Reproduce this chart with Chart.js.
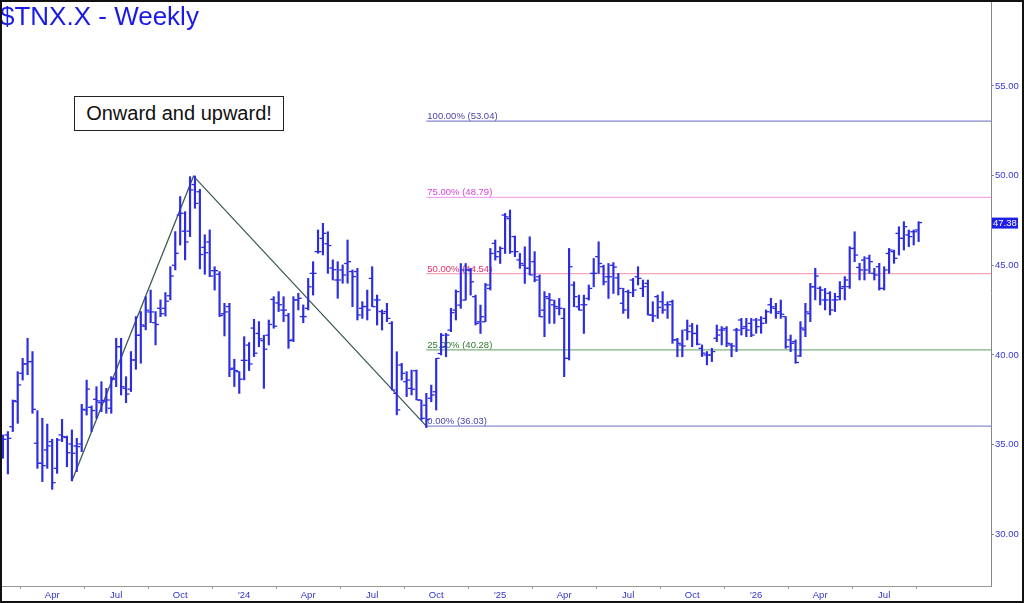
<!DOCTYPE html>
<html>
<head>
<meta charset="utf-8">
<script src="https://cdn.jsdelivr.net/npm/chart.js@4.4.1/dist/chart.umd.min.js"></script>
<style>
html,body{margin:0;padding:0;background:#fff;}
#wrap{position:relative;width:1024px;height:603px;overflow:hidden;}
#c{position:absolute;left:0;top:0;}
#title{position:absolute;left:0;top:3px;font:26px/26px "Liberation Sans",Arial,sans-serif;color:#1a1ae6;white-space:nowrap;}
#note{position:absolute;left:74px;top:96px;width:210px;height:35px;box-sizing:border-box;border:1.5px solid #222;background:#fff;
  font:20px "Liberation Sans",Arial,sans-serif;color:#111;display:flex;align-items:center;justify-content:center;}
#frame{position:absolute;left:0;top:0;width:1024px;height:603px;border:2px solid #111;box-sizing:border-box;pointer-events:none;}
</style>
</head>
<body>
<div id="wrap">
  <canvas id="c" width="1024" height="603"></canvas>
  <div id="title">$TNX.X - Weekly</div>
  <div id="note">Onward and upward!</div>
  <div id="frame"></div>
</div>
<script>
// weekly bars, one per week, index 0 = first bar on the left
const opens=[35.1,35.54,36.0,37.4,38.98,39.5,39.63,35.08,33.96,34.7,
35.17,33.68,35.54,35.4,35.04,34.93,35.04,36.93,37.08,37.53,
37.34,37.4,37.03,38.7,40.46,38.14,38.09,39.72,41.1,41.6,
42.4,41.8,42.6,42.6,43.3,45.0,47.8,46.9,46.9,49.5,
49.1,46.0,46.3,44.7,44.5,42.3,42.7,39.26,39.07,39.7,
40.55,41.5,41.2,40.8,41.1,43.1,42.9,42.5,42.2,40.84,
43.07,42.14,42.6,44.55,45.76,46.5,46.2,44.85,44.18,44.74,
45.1,44.65,44.65,42.6,42.7,44.27,43.07,42.42,42.42,41.76,
37.86,39.44,38.51,38.14,39.12,37.49,37.2,37.58,37.95,40.08,
40.46,41.39,42.5,42.78,43.06,44.74,43.25,41.85,41.85,43.71,
46.22,45.76,47.8,47.6,46.6,45.3,45.0,44.83,45.2,44.36,
42.5,43.15,42.8,42.6,42.04,39.81,43.9,42.69,42.8,43.15,
44.55,45.48,44.92,44.36,45.0,44.3,42.88,43.53,44.18,44.36,
43.71,43.99,42.23,43.25,42.97,42.8,42.97,40.84,40.56,41.39,
41.62,41.2,40.37,40.0,40.0,40.93,41.39,41.48,40.56,41.39,
41.95,41.58,41.76,41.95,41.95,42.04,42.8,42.6,42.41,42.14,
40.84,40.74,39.95,41.4,42.3,43.8,43.72,43.07,43.44,43.07,
43.25,43.81,43.81,45.94,44.88,45.29,45.39,44.55,44.92,43.71,
45.66,45.76,46.78,46.5,46.69,46.87,46.97];
const highs=[35.54,35.73,37.49,39.07,39.81,40.93,40.19,36.9,36.47,36.15,
35.3,35.35,36.41,35.48,35.82,35.35,37.25,38.6,37.16,38.23,
38.51,38.14,38.79,40.93,40.93,38.79,40.19,42.14,42.42,43.25,
43.62,42.42,43.07,43.48,44.92,46.88,48.83,47.99,49.94,49.98,
49.23,46.7,46.97,44.92,44.65,42.88,42.88,39.76,39.07,41.02,
40.69,41.99,41.86,41.1,41.95,43.25,43.53,43.25,42.32,43.25,
43.44,42.79,44.27,45.2,46.97,47.34,46.87,45.3,45.2,45.02,
46.41,44.74,44.83,42.97,43.62,44.92,43.34,42.51,42.88,41.86,
40.18,39.53,39.07,39.16,39.16,37.49,37.86,38.32,39.81,41.2,
41.2,42.6,43.62,45.1,45.1,44.83,43.34,42.78,43.99,45.94,
46.41,46.03,47.89,48.08,46.63,45.66,46.03,46.59,45.76,44.46,
43.53,43.43,43.06,43.15,42.6,45.94,44.08,43.34,43.34,43.9,
45.38,46.31,45.01,45.1,45.15,44.55,43.72,43.62,44.27,44.92,
44.18,44.18,42.97,43.34,43.53,42.97,43.06,40.93,41.39,41.95,
41.76,41.67,40.56,40.19,40.37,41.67,41.58,41.58,40.65,41.49,
42.04,42.04,42.04,42.04,42.14,42.51,43.16,42.88,43.06,42.14,
41.11,40.84,41.86,42.88,43.99,44.83,43.81,43.71,43.53,43.44,
44.09,44.37,46.04,46.87,45.11,45.48,45.57,44.83,45.11,44.92,
45.94,45.85,47.15,47.43,46.97,46.97,47.43];
const lows=[34.24,33.37,35.73,36.19,38.6,38.9,36.75,33.68,32.94,33.68,
32.51,33.4,35.17,33.77,32.98,33.5,34.61,36.65,35.73,36.47,
36.84,36.75,36.75,38.23,37.77,37.34,37.96,39.2,39.54,41.4,
41.8,40.56,42.14,42.17,43.07,44.74,46.13,45.3,46.6,48.18,
44.8,44.5,44.37,43.62,42.14,41.06,38.79,38.24,37.86,38.61,
39.13,39.91,40.46,38.14,40.56,41.49,42.42,41.86,40.37,40.74,
42.51,41.8,42.51,43.34,45.67,45.58,44.55,44.18,43.16,44.0,
44.0,42.69,41.95,42.04,41.95,42.69,41.67,41.39,41.86,38.05,
36.66,38.6,37.68,37.77,37.49,36.37,35.95,37.39,36.93,40.0,
39.9,41.3,41.95,42.6,43.06,43.34,41.67,41.2,41.85,43.62,
45.29,45.1,45.66,45.66,45.48,44.83,43.99,44.46,44.08,42.13,
41.02,41.76,41.76,42.23,38.79,39.72,42.69,42.5,41.2,43.06,
43.8,44.55,43.9,43.15,43.43,43.34,42.32,42.04,43.25,43.9,
43.25,42.23,41.86,42.04,42.32,42.04,40.65,39.9,39.9,40.84,
40.46,40.56,39.91,39.45,39.63,40.74,40.56,40.46,39.9,40.19,
41.11,41.02,41.02,41.21,41.21,41.76,42.32,42.04,42.04,40.37,
40.19,39.54,39.91,41.02,41.86,43.07,42.79,42.51,42.23,42.42,
43.07,43.07,43.71,45.2,44.18,44.18,44.55,44.18,43.62,43.62,
44.55,45.11,45.57,45.85,46.04,46.13,46.32];
const closes=[35.3,35.35,37.45,38.33,39.5,39.63,36.97,33.96,33.83,34.93,
32.88,35.26,35.45,34.55,34.52,34.89,36.97,38.1,36.9,37.44,
37.46,37.49,38.64,40.46,38.23,37.82,39.72,41.1,41.67,42.5,
42.4,41.7,42.3,43.0,44.4,45.67,47.9,46.3,49.2,48.45,
45.6,45.7,44.4,44.7,42.2,42.4,39.2,39.13,38.65,39.7,
39.5,40.1,40.9,40.32,41.7,41.6,42.8,42.5,40.8,43.07,
43.16,42.14,43.8,44.55,45.76,46.78,46.1,44.75,44.18,44.46,
45.2,44.37,42.23,42.7,42.51,42.69,43.07,42.32,42.04,38.05,
36.94,38.98,38.6,38.09,37.49,36.47,36.4,37.77,39.81,41.1,
41.11,42.36,43.53,44.74,44.74,44.08,41.76,42.13,43.9,45.66,
45.48,45.94,47.7,45.76,45.76,45.1,44.83,44.46,44.18,42.13,
43.25,43.06,42.7,42.6,39.81,44.92,43.25,42.5,42.8,43.71,
44.55,45.1,44.08,44.36,44.9,43.71,42.51,43.48,43.62,44.27,
43.81,42.23,42.18,42.65,42.51,42.8,40.84,40.65,40.5,41.3,
41.2,40.6,40.1,40.0,40.19,41.11,41.39,40.65,40.5,41.39,
41.48,41.39,41.11,41.58,41.76,42.41,42.69,42.32,42.27,40.46,
40.65,39.58,41.5,42.4,43.8,44.4,43.62,43.07,42.51,43.07,
43.71,44.18,45.94,45.57,44.74,44.74,45.2,44.46,43.71,44.74,
45.85,45.39,46.5,47.15,46.6,46.87,47.38];

// x axis: bar index where each month label sits
const tickWeeks=[10,23,36,49,62,75,88,101,114,127,140,153,166,179];
const tickLabels=['Apr','Jul','Oct',"'24",'Apr','Jul','Oct',"'25",'Apr','Jul','Oct',"'26",'Apr','Jul'];
const yTicks=[30,35,40,45,50,55];

// swing line pivots (bar index, price)
const trendX=[14,38.7,86];
const trendY=[32.98,49.97,36.03];

// retracement levels
const fibStart=86;
const fibNames=['100.00%','75.00%','50.00%','25.00%','0.00%'];
const fibValues=[53.04,48.79,44.54,40.28,36.03];
const fibLine=['#8484cc','#f2a6f0','#f4a6b8','#7fb27f','#8a8ad0'];
const fibText=['#4646a6','#d840d8','#e23062','#2e7a2e','#4646a6'];

const xMin=-0.6, xMax=200.7, yMin=27.12, yMax=59.79;
const FONT='"Liberation Sans", Arial, sans-serif';
const barBlue='#2c2ce0';

const idx=opens.map((_,i)=>i);

const fibSets=fibValues.map((v,k)=>({
  type:'line', data:[{x:fibStart,y:v},{x:xMax,y:v}],
  borderColor:fibLine[k], borderWidth:1.3, pointRadius:0, order:3
}));

// no edge padding from tick labels: plot area fills the canvas
function noPad(s){ s.paddingLeft=0; s.paddingRight=0; s.paddingTop=0; s.paddingBottom=0; }

const fibLabels={
  id:'fibLabels',
  beforeDatasetsDraw(chart){
    const {ctx,scales:{x,y}}=chart;
    ctx.save();
    ctx.font='9.5px '+FONT;
    ctx.textBaseline='alphabetic';
    fibValues.forEach((v,k)=>{
      ctx.fillStyle=fibText[k];
      ctx.fillText(fibNames[k]+' ('+v.toFixed(2)+')', x.getPixelForValue(fibStart)+1, y.getPixelForValue(v)-2);
    });
    ctx.restore();
  }
};

const priceTag={
  id:'priceTag',
  afterDraw(chart){
    const {ctx,scales:{y},chartArea}=chart;
    const last=closes[closes.length-1];
    const py=y.getPixelForValue(last);
    ctx.save();
    ctx.fillStyle='#1e1ee8';
    ctx.fillRect(chartArea.right+1, py-5, 26, 11);
    ctx.fillStyle='#fff';
    ctx.font='9.5px '+FONT;
    ctx.textBaseline='middle';
    ctx.fillText(last.toFixed(2), chartArea.right+2, py+1);
    ctx.restore();
  }
};

new Chart(document.getElementById('c'),{
  type:'bar',
  data:{datasets:[
    {type:'bar', data:idx.map(i=>({x:i,y:[lows[i],highs[i]]})), backgroundColor:barBlue,
     barThickness:1.5, borderWidth:0, grouped:false, order:0},
    {type:'line', showLine:false, data:idx.map(i=>({x:i-0.4,y:opens[i]})), borderColor:barBlue,
     pointStyle:'line', pointRadius:1.5, pointBorderWidth:1.3, pointBorderColor:barBlue, order:0},
    {type:'line', showLine:false, data:idx.map(i=>({x:i+0.4,y:closes[i]})), borderColor:barBlue,
     pointStyle:'line', pointRadius:1.5, pointBorderWidth:1.3, pointBorderColor:barBlue, order:0},
    {type:'line', data:trendX.map((x,k)=>({x:x,y:trendY[k]})), borderColor:'#3d5a55', borderWidth:1.3,
     pointRadius:0, order:2},
    ...fibSets
  ]},
  options:{
    responsive:false, animation:false, devicePixelRatio:1,
    layout:{padding:0, autoPadding:false},
    plugins:{legend:{display:false}, tooltip:{enabled:false}},
    events:[],
    scales:{
      x:{type:'linear', min:xMin, max:xMax, offset:false,
        afterBuildTicks:s=>{s.ticks=tickWeeks.map(v=>({value:v}));},
        afterFit:s=>{s.height=17; noPad(s);},
        ticks:{autoSkip:false, maxRotation:0, padding:1, color:'#3232d2', font:{size:9.5,family:FONT},
          callback:(v,i)=>tickLabels[i]},
        grid:{drawOnChartArea:false, tickLength:3, color:'#999'},
        border:{color:'#999'}},
      y:{type:'linear', position:'right', min:yMin, max:yMax,
        afterBuildTicks:s=>{s.ticks=yTicks.map(v=>({value:v}));},
        afterFit:s=>{s.width=33; noPad(s);},
        ticks:{padding:1, color:'#3535d5', font:{size:9.5,family:FONT}, callback:v=>v.toFixed(2)},
        grid:{drawOnChartArea:false, tickLength:3, color:'#888'},
        border:{color:'#888'}}
    }
  },
  plugins:[fibLabels,priceTag]
});
</script>
</body>
</html>
